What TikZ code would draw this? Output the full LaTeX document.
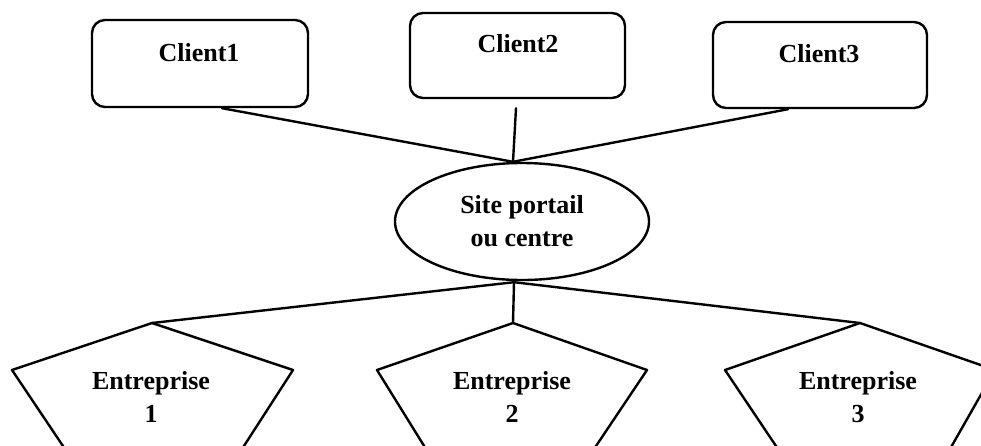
\documentclass[tikz,border=0pt]{standalone}
\usepackage{fontspec}
\setmainfont{Liberation Serif}
\usetikzlibrary{shapes.geometric,calc}

\tikzset{
  line/.style={line width=2.4pt, line join=round, line cap=round},
  clientbox/.style={draw, line width=2.4pt, rectangle, rounded corners=13pt,
    inner sep=0pt},
  portal/.style={draw, line width=2.4pt, ellipse, inner sep=0pt,
    minimum width=254pt, minimum height=117pt, align=center},
  txt/.style={font=\bfseries\fontsize{26}{33}\selectfont, align=center,
    inner sep=0pt}
}

\begin{document}
\begin{tikzpicture}[x=1pt,y=-1pt]
  \useasboundingbox (0,0) rectangle (981,445);
  \clip (0,0) rectangle (981,445);

  % client boxes
  \node[clientbox, minimum width=216pt, minimum height=87pt] (c1) at (200,63.5) {};
  \node[clientbox, minimum width=215pt, minimum height=85pt] (c2) at (517.5,55.5) {};
  \node[clientbox, minimum width=214pt, minimum height=86pt] (c3) at (820,65) {};
  \node[txt] (c1t) at (199,53) {Client1};
  \node[txt] (c2t) at (518,44) {Client2};
  \node[txt] (c3t) at (819,54) {Client3};

  % central portal
  \node[portal, txt] (site) at (522,221.5) {Site portail\\ou centre};

  % enterprise pentagons
  \coordinate (p1) at (152,323);
  \coordinate (p2) at (513,323);
  \coordinate (p3) at (860,323);
  \draw[line] (p1) -- (293,370) -- (242,449) -- (65,449) -- (12,370) -- cycle;
  \draw[line] (p2) -- (647,370) -- (594,449) -- (426,449) -- (377,370) -- cycle;
  \draw[line] (p3) -- (995,370) -- (950,449) -- (778,449) -- (725,370) -- cycle;
  \node[txt] (e1) at (151,397) {Entreprise\\1};
  \node[txt] (e2) at (512,397) {Entreprise\\2};
  \node[txt] (e3) at (858,397) {Entreprise\\3};

  % junction points on the portal
  \coordinate (jtop) at ($(site.north)+(-9,0)$);
  \coordinate (jbot) at ($(site.south)+(-8,1)$);
  \coordinate (c2s) at ($(c2.south)+(-1.5,9)$);

  % connectors
  \draw[line] ($(c1.south)+(22,0)$) -- (jtop);
  \draw[line] (c2s) -- (jtop);
  \draw[line] ($(c3.south)+(-32,0)$) -- (jtop);
  \draw[line] (jbot) -- (p1);
  \draw[line] (jbot) -- (p2);
  \draw[line] (jbot) -- (p3);
\end{tikzpicture}
\end{document}
